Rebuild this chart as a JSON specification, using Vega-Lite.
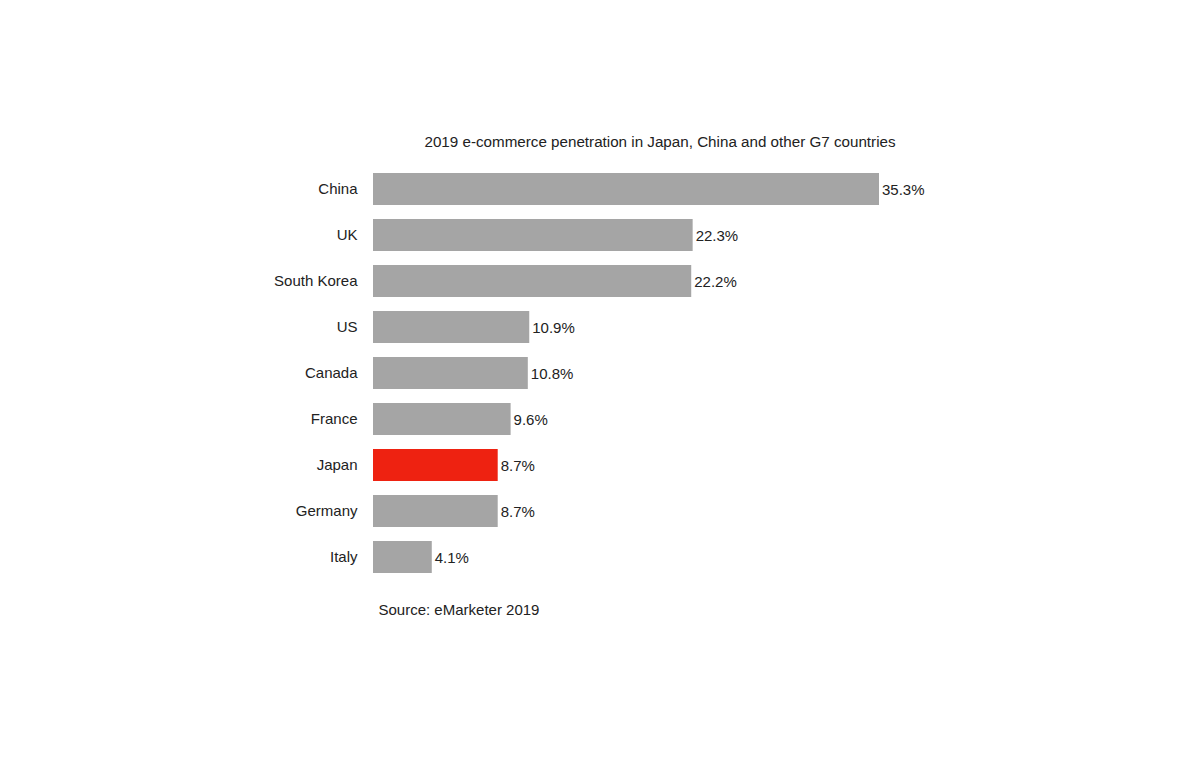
{
  "$schema": "https://vega.github.io/schema/vega-lite/v6.json",
  "width": 506,
  "height": 414,
  "autosize": "none",
  "padding": {"left": 373, "top": 166, "right": 321, "bottom": 179},
  "background": "white",
  "config": {"view": {"stroke": null}},
  "title": {
    "text": "2019 e-commerce penetration in Japan, China and other G7 countries",
    "anchor": "middle",
    "dx": 34,
    "offset": 16,
    "fontSize": 15.2,
    "fontWeight": "normal",
    "font": "Liberation Sans",
    "color": "#222222"
  },
  "data": {
    "values": [
      {"country": "China", "share": 35.3, "label": "35.3%", "highlight": "no"},
      {"country": "UK", "share": 22.3, "label": "22.3%", "highlight": "no"},
      {"country": "South Korea", "share": 22.2, "label": "22.2%", "highlight": "no"},
      {"country": "US", "share": 10.9, "label": "10.9%", "highlight": "no"},
      {"country": "Canada", "share": 10.8, "label": "10.8%", "highlight": "no"},
      {"country": "France", "share": 9.6, "label": "9.6%", "highlight": "no"},
      {"country": "Japan", "share": 8.7, "label": "8.7%", "highlight": "yes"},
      {"country": "Germany", "share": 8.7, "label": "8.7%", "highlight": "no"},
      {"country": "Italy", "share": 4.1, "label": "4.1%", "highlight": "no"}
    ]
  },
  "encoding": {
    "y": {
      "field": "country",
      "type": "nominal",
      "sort": null,
      "scale": {"paddingInner": 0.3, "paddingOuter": 0.15},
      "axis": {
        "title": null,
        "ticks": false,
        "domain": false,
        "labelPadding": 16,
        "labelFontSize": 15,
        "labelFont": "Liberation Sans",
        "labelColor": "#222222"
      }
    },
    "x": {
      "field": "share",
      "type": "quantitative",
      "scale": {"domain": [0, 35.3], "nice": false},
      "axis": {
        "grid": false,
        "labels": false,
        "ticks": false,
        "domain": false,
        "title": "Source: eMarketer 2019",
        "titleAnchor": "start",
        "titleAlign": "left",
        "titleBaseline": "middle",
        "titleX": 5,
        "titleY": 29,
        "titleFontSize": 15,
        "titleFontWeight": "normal",
        "titleFont": "Liberation Sans",
        "titleColor": "#222222"
      }
    }
  },
  "layer": [
    {
      "mark": {"type": "bar"},
      "encoding": {
        "color": {
          "field": "highlight",
          "type": "nominal",
          "scale": {"domain": ["no", "yes"], "range": ["#a5a5a5", "#ee2211"]},
          "legend": null
        }
      }
    },
    {
      "mark": {
        "type": "text",
        "align": "left",
        "baseline": "middle",
        "dx": 3,
        "dy": 1,
        "fontSize": 15,
        "font": "Liberation Sans",
        "color": "#222222"
      },
      "encoding": {"text": {"field": "label"}}
    }
  ]
}
